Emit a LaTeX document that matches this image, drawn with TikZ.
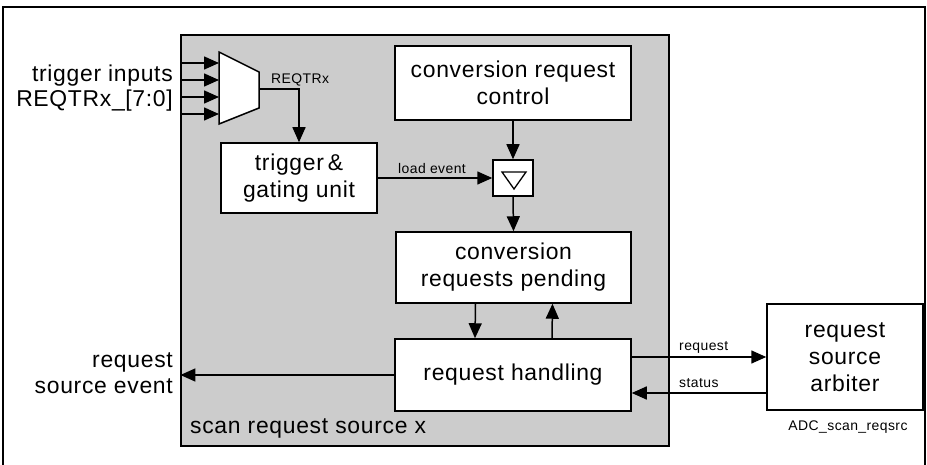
\documentclass[tikz,border=0pt]{standalone}
\usepackage{fontspec}
\setmainfont{Liberation Sans}[LetterSpace=3]
\usetikzlibrary{arrows.meta,calc}
\definecolor{boxgray}{RGB}{204,204,204}
\tikzset{
  blk/.style={draw=black, line width=1.5bp, fill=white, align=center, inner sep=0pt,
    font=\fontsize{23}{27}\selectfont},
  conn/.style={line width=1.5bp, -{Triangle[length=15bp,width=13bp]}},
  plain/.style={line width=1.5bp},
  biglbl/.style={inner sep=0pt, font=\fontsize{23}{26}\selectfont},
  smalllbl/.style={inner sep=0pt, font=\fontsize{14}{16}\selectfont},
}
\begin{document}
\begin{tikzpicture}[x=1bp,y=-1bp]
\useasboundingbox (0,0) rectangle (927,465);
% outer frame (no bottom line)
\draw[line width=2bp] (3,466) -- (3,7) -- (925,7) -- (925,466);
% gray container
\node (src) [draw=black, line width=1.2bp, fill=boxgray, minimum width=488bp, minimum height=411bp, inner sep=0pt] at (425,240.5) {};
\node[biglbl, anchor=west] (srclbl) at (190,428) {scan request source x};
% boxes
\node (ctrl) [blk, minimum width=236bp, minimum height=74bp] at (513,83) {conversion request\\control};
\node (trig) [blk, minimum width=156bp, minimum height=70bp] at (299,178) {trigger\,\&\\gating unit};
\node (tri) [draw=black, line width=1.5bp, fill=white, minimum width=40bp, minimum height=36bp, inner sep=0pt] at (513,178) {};
\draw[line width=1.3bp] (502,172) -- (526,172) -- (514,189) -- cycle;
\node (pend) [blk, minimum width=235bp, minimum height=71bp] at (513.5,267.5) {conversion\\requests pending};
\node (hand) [blk, minimum width=236bp, minimum height=72bp] at (513,375) {request handling};
\node (arb) [blk, minimum width=156bp, minimum height=106bp] at (845,357) {request\\source\\arbiter};
% mux
\coordinate (m1) at (219,52);
\coordinate (m2) at (259,72);
\coordinate (m3) at (259,108);
\coordinate (m4) at (219,124);
\coordinate (mout) at (259,89);
\draw[line width=1.5bp, fill=white] (m1) -- (m2) -- (m3) -- (m4) -- cycle;
\foreach \yy/\nm in {63/i1,80/i2,97/i3,114/i4}{
  \coordinate (\nm s) at (src.west |- 0,\yy);
  \coordinate (\nm e) at (219,\yy);
  \draw[conn] (\nm s) -- (\nm e);
}
\node[biglbl, anchor=east, align=right, font=\fontsize{23}{25}\selectfont] (inlbl) at (173,88) {trigger inputs\\REQTRx\_[7:0]};
% mux output
\draw[conn] (mout) -| (trig.north);
\node[smalllbl, anchor=west] (reqtrx) at (271,80) {REQTRx};
% load event
\draw[conn] (trig.east) -- (tri.west);
\node[smalllbl] (ldlbl) at (432,169) {load event};
% vertical chain
\draw[conn] (ctrl.south) -- (tri.north);
\draw[conn] (tri.south) -- (pend.north);
\draw[conn] ([xshift=-38bp]pend.south) -- ([xshift=-38bp]hand.north);
\draw[conn] ([xshift=39bp]hand.north) -- ([xshift=39bp]pend.south);
% request source event
\draw[conn] (hand.west) -- (src.west |- hand.west);
\node[biglbl, anchor=east, align=right] (evlbl) at (173,373) {request\\source event};
% request / status
\coordinate (rqs) at (hand.east |- 0,357);
\coordinate (rqe) at (arb.west |- 0,357);
\coordinate (sts) at (arb.west |- 0,393);
\coordinate (ste) at (hand.east |- 0,393);
\draw[conn] (rqs) -- (rqe);
\draw[conn] (sts) -- (ste);
\node[smalllbl, anchor=west] (rqlbl) at (679,347) {request};
\node[smalllbl, anchor=west] (stlbl) at (679,383) {status};
\node[smalllbl] (adclbl) at (848,427) {ADC\_scan\_reqsrc};
\end{tikzpicture}
\end{document}
